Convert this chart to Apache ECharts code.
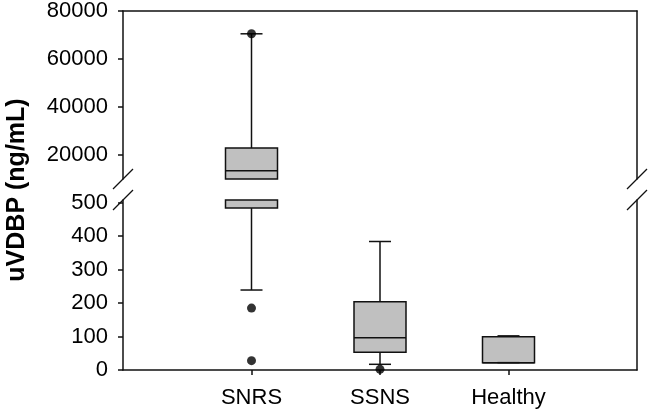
<!DOCTYPE html>
<html>
<head>
<meta charset="utf-8">
<script src="https://cdn.jsdelivr.net/npm/echarts@6/dist/echarts.min.js"></script>
<style>
  html, body { margin: 0; padding: 0; background: #fff; }
  #chart { width: 648px; height: 410px; }
</style>
</head>
<body>
<div id="chart"></div>
<script>
// ---- data ----
const categories = ['SNRS', 'SSNS', 'Healthy'];
const whiskerLow = [239, 17, 22];
const q1 = [484, 53, 22];
const median = [13400, 96, 22];
const q3 = [22900, 204, 99];
const whiskerHigh = [70500, 384, 102];
const outlierCat = ['SNRS', 'SNRS', 'SNRS', 'SSNS'];
const outlierVal = [70500, 185, 28, 2];
const upperTicks = [20000, 40000, 60000, 80000];
const lowerTicks = [0, 100, 200, 300, 400, 500];
const upperRange = [10000, 80000];
const lowerRange = [0, 508];
const yTitle = 'uVDBP (ng/mL)';

// ---- layout / style ----
const FONT = 'Liberation Sans, Arial, sans-serif';
const G = { left: 123, width: 514, upTop: 10, upH: 169, lowTop: 200, lowH: 170 };
const LINE = '#111';
const FILL = '#c0c0c0';
const BOX_HALF = 26, CAP_HALF = 11;

const xCats = [''].concat(categories, ['']);
const boxData = categories.map((c, i) => [c, whiskerLow[i], q1[i], median[i], q3[i], whiskerHigh[i]]);

function renderBox(params, api) {
  const cs = params.coordSys;
  const top = cs.y, bot = cs.y + cs.height;
  const xi = api.value(0);
  const x = api.coord([xi, 0])[0];
  const yOf = v => api.coord([xi, v])[1];
  const clamp = y => Math.max(top, Math.min(bot, y));
  const inRange = y => y >= top - 0.01 && y <= bot + 0.01;
  const ls = { stroke: LINE, lineWidth: 1.5 };
  const children = [];
  const yq1 = yOf(api.value(2)), yq3 = yOf(api.value(4));
  const b1 = clamp(yq1), b2 = clamp(yq3);
  if (Math.abs(b1 - b2) > 0.5) {
    children.push({ type: 'rect', shape: { x: x - BOX_HALF, y: Math.min(b1, b2), width: BOX_HALF * 2, height: Math.abs(b1 - b2) },
      style: { fill: FILL, stroke: LINE, lineWidth: 1.5 } });
  }
  const ym = yOf(api.value(3));
  if (inRange(ym)) children.push({ type: 'line', shape: { x1: x - BOX_HALF, y1: ym, x2: x + BOX_HALF, y2: ym }, style: ls });
  const whisk = (yEnd, yBox) => {
    const c1 = clamp(yEnd), c2 = clamp(yBox);
    if (Math.abs(c1 - c2) > 0.5) children.push({ type: 'line', shape: { x1: x, y1: c1, x2: x, y2: c2 }, style: ls });
    if (inRange(yEnd)) children.push({ type: 'line', shape: { x1: x - CAP_HALF, y1: yEnd, x2: x + CAP_HALF, y2: yEnd }, style: ls });
  };
  whisk(yOf(api.value(1)), yq1);
  whisk(yOf(api.value(5)), yq3);
  return { type: 'group', children };
}

function outliersIn(range) {
  const out = [];
  outlierVal.forEach((v, i) => { if (v >= range[0] && v <= range[1]) out.push([outlierCat[i], v]); });
  return out;
}

const labelStyle = { fontFamily: FONT, fontSize: 22, color: '#000' };
const axisLine = { show: true, lineStyle: { color: LINE, width: 1.5 } };

function leftAxis(gi, range, ticks) {
  return {
    type: 'value', gridIndex: gi, position: 'left', min: range[0], max: range[1],
    axisLine: axisLine,
    axisTick: { show: true, length: 5, customValues: ticks, lineStyle: { color: LINE, width: 1.5 } },
    axisLabel: Object.assign({ customValues: ticks, margin: 15, formatter: (v) => String(v) }, labelStyle),
    splitLine: { show: false }
  };
}
function rightAxis(gi, range) {
  return {
    type: 'value', gridIndex: gi, position: 'right', min: range[0], max: range[1],
    axisLine: axisLine, axisTick: { show: false }, axisLabel: { show: false }, splitLine: { show: false }
  };
}

const slash = (cx, cy) => ({ type: 'line', shape: { x1: cx - 10, y1: cy + 10, x2: cx + 10, y2: cy - 10 },
  style: { stroke: LINE, lineWidth: 1.3 }, z: 100 });
const xL = G.left, xR = G.left + G.width, yB1 = G.upTop + G.upH, yB2 = G.lowTop;

const chart = echarts.init(document.getElementById('chart'), null, { renderer: 'canvas' });
chart.setOption({
  animation: false,
  backgroundColor: '#fff',
  grid: [
    { left: G.left, top: G.upTop, width: G.width, height: G.upH },
    { left: G.left, top: G.lowTop, width: G.width, height: G.lowH }
  ],
  xAxis: [
    { type: 'category', gridIndex: 0, data: xCats, boundaryGap: false, position: 'top',
      axisLine: axisLine, axisTick: { show: false }, axisLabel: { show: false }, splitLine: { show: false } },
    { type: 'category', gridIndex: 1, data: xCats, boundaryGap: false, position: 'bottom',
      axisLine: axisLine,
      axisTick: { show: true, length: 5, interval: (i) => i >= 1 && i <= categories.length, lineStyle: { color: LINE, width: 1.5 } },
      axisLabel: Object.assign({ interval: 0, margin: 17 }, labelStyle),
      splitLine: { show: false } }
  ],
  yAxis: [
    leftAxis(0, upperRange, upperTicks),
    leftAxis(1, lowerRange, lowerTicks),
    rightAxis(0, upperRange),
    rightAxis(1, lowerRange)
  ],
  series: [
    { type: 'custom', xAxisIndex: 0, yAxisIndex: 0, renderItem: renderBox, data: boxData,
      encode: { x: 0, y: [1, 2, 3, 4, 5] }, clip: false },
    { type: 'custom', xAxisIndex: 1, yAxisIndex: 1, renderItem: renderBox, data: boxData,
      encode: { x: 0, y: [1, 2, 3, 4, 5] }, clip: false },
    { type: 'scatter', xAxisIndex: 0, yAxisIndex: 0, data: outliersIn(upperRange), symbolSize: 9,
      itemStyle: { color: '#000' }, z: 5 },
    { type: 'scatter', xAxisIndex: 1, yAxisIndex: 1, data: outliersIn(lowerRange), symbolSize: 9,
      itemStyle: { color: '#000' }, z: 5, clip: false }
  ],
  graphic: [
    { type: 'text', x: 17, y: 190, rotation: Math.PI / 2,
      style: { text: yTitle, font: 'bold 25px ' + FONT, fill: '#000', align: 'center', verticalAlign: 'middle' } },
    slash(xL, yB1), slash(xL, yB2), slash(xR, yB1), slash(xR, yB2)
  ]
});
</script>
</body>
</html>
